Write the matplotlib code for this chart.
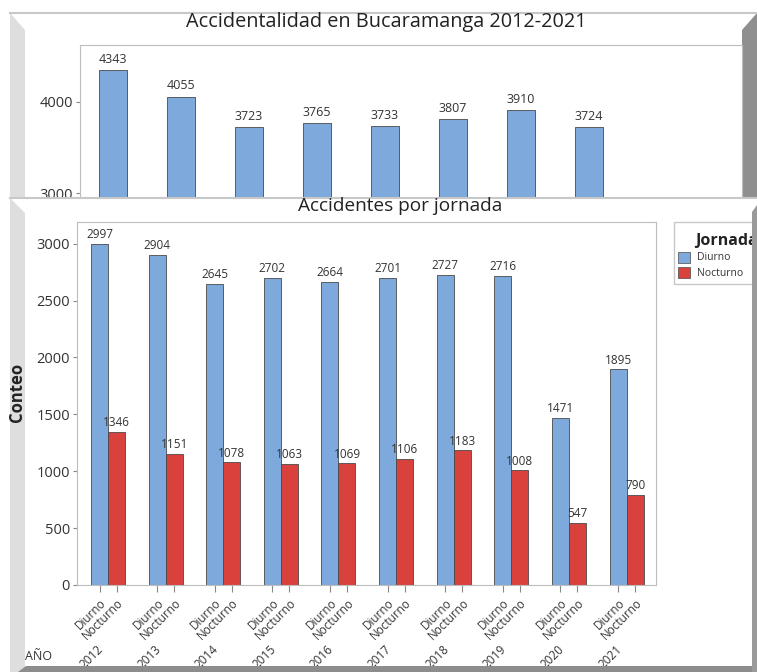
import matplotlib
matplotlib.use('Agg')
import numpy as np
import matplotlib.pyplot as plt
from matplotlib.patches import Rectangle, Polygon
from matplotlib.transforms import blended_transform_factory

# Datos
anios = ['2012', '2013', '2014', '2015', '2016', '2017', '2018', '2019', '2020', '2021']
total = [4343, 4055, 3723, 3765, 3733, 3807, 3910, 3724, 2018, 2685]
jornadas = ['Diurno', 'Nocturno']
diurno = [2997, 2904, 2645, 2702, 2664, 2701, 2727, 2716, 1471, 1895]
nocturno = [1346, 1151, 1078, 1063, 1069, 1106, 1183, 1008, 547, 790]

AZUL = '#7DA9DC'
ROJO = '#D9413D'
BORDE = '#4a4a4a'
GRIS = '#bdbdbd'
TXT = '#333333'
colores = [AZUL, ROJO]

plt.rcParams['font.family'] = ['Open Sans', 'DejaVu Sans']

W, H = 757, 672
fig = plt.figure(figsize=(W / 100, H / 100), dpi=100)


def caja(l, t, r, b):
    # caja en pixeles -> coordenadas de figura
    return [l / W, 1 - b / H, (r - l) / W, (b - t) / H]


def capa(z):
    a = fig.add_axes([0, 0, 1, 1])
    a.set_xlim(0, W)
    a.set_ylim(H, 0)
    a.axis('off')
    a.set_zorder(z)
    return a


# Marco del grafico de atras
f0 = capa(0)
f0.add_patch(Polygon([(10, 13), (25, 30), (25, H), (10, H)], closed=True, fc='#dedede', ec='none'))
f0.plot([10, W], [13, 13], color='#c8c8c8', lw=1.5)
f0.add_patch(Polygon([(742, 30), (W, 13), (W, H), (742, H)], closed=True, fc='#8f8f8f', ec='none'))
f0.text(386, 22, 'Accidentalidad en Bucaramanga 2012-2021', ha='center', va='center',
        fontsize=14.3, color='#222222')

# Grafico de totales
x = np.arange(len(anios))
ax1 = fig.add_axes(caja(80, 45, 742, 260))
ax1.set_zorder(1)
b1 = ax1.bar(x, total, width=0.41, color=AZUL, edgecolor=BORDE, linewidth=0.6)
ax1.bar_label(b1, padding=3, fontsize=9, color=TXT)
ax1.set_xlim(-0.485, 9.25)
ax1.set_ylim(2272, 4619)
ax1.set_yticks([3000, 4000])
ax1.set_xticks([])
ax1.tick_params(axis='y', length=3, color='#888888', labelsize=10.5, labelcolor=TXT, pad=2)
for s in ax1.spines.values():
    s.set_color(GRIS)
    s.set_linewidth(0.8)

# Marco del grafico de adelante
f2 = capa(2)
f2.add_patch(Rectangle((10, 198), W - 10, H - 198, fc='white', ec='none'))
f2.plot([10, W], [198, 198], color='#c8c8c8', lw=1.5)
f2.add_patch(Polygon([(10, 198), (25, 213), (25, H), (10, H)], closed=True, fc='#dedede', ec='none'))
f2.text(400, 206, 'Accidentes por jornada', ha='center', va='center', fontsize=13.7, color='#222222')
f2.text(17, 392, 'Conteo', rotation=90, ha='center', va='center', fontsize=12,
        fontweight='bold', color='#222222')
f2.text(25, 656, 'AÑO', ha='left', va='center', fontsize=9, color=TXT)

# Leyenda
f2.add_patch(Rectangle((674, 222), 90, 62, fc='white', ec='#c8c8c8', lw=1))
f2.text(695, 241, 'Jornada', ha='left', va='center', fontsize=11.5, fontweight='bold', color='#222222')
for k, (nom, col) in enumerate(zip(jornadas, colores)):
    f2.add_patch(Rectangle((678, 252 + 15 * k), 12, 11, fc=col, ec=BORDE, lw=0.5))
    f2.text(697, 258 + 15 * k, nom, ha='left', va='center', fontsize=7.5, color=TXT)

# Grafico por jornada
w = 0.295
ax2 = fig.add_axes(caja(77, 222, 656, 585))
ax2.set_zorder(3)
bd = ax2.bar(x - w / 2, diurno, w, color=AZUL, edgecolor=BORDE, linewidth=0.6)
bn = ax2.bar(x + w / 2, nocturno, w, color=ROJO, edgecolor=BORDE, linewidth=0.6)
ax2.bar_label(bd, padding=2, fontsize=8.5, color=TXT)
ax2.bar_label(bn, padding=2, fontsize=8.5, color=TXT)
ax2.set_xlim(-0.538, 9.51)
ax2.set_ylim(0, 3190)
ax2.set_yticks(range(0, 3001, 500))
pos = np.ravel(np.column_stack([x - w / 2, x + w / 2]))
ax2.set_xticks(pos, jornadas * len(anios))
for lbl in ax2.get_xticklabels():
    lbl.set_rotation(45)
    lbl.set_ha('right')
    lbl.set_rotation_mode('anchor')
ax2.tick_params(axis='y', length=3, color='#888888', labelsize=10.5, labelcolor=TXT, pad=2)
ax2.tick_params(axis='x', length=5, color='#888888', labelsize=8.5, labelcolor=TXT, pad=3)
for s in ax2.spines.values():
    s.set_color(GRIS)
    s.set_linewidth(0.8)

# años debajo de cada grupo
trans = blended_transform_factory(ax2.transData, ax2.transAxes)
for i, a in enumerate(anios):
    ax2.text(i - 0.12, -0.172, a, transform=trans, rotation=45, ha='right', va='center',
             rotation_mode='anchor', fontsize=8.5, color=TXT, clip_on=False)

# Bordes encima
f4 = capa(4)
f4.add_patch(Polygon([(18, H), (26, 666), (W, 666), (W, H)], closed=True, fc='#8c8c8c', ec='none'))
f4.add_patch(Polygon([(752, 212), (W, 205), (W, H), (752, H)], closed=True, fc='#9a9a9a', ec='none'))

fig.savefig('out.png', dpi=100)
